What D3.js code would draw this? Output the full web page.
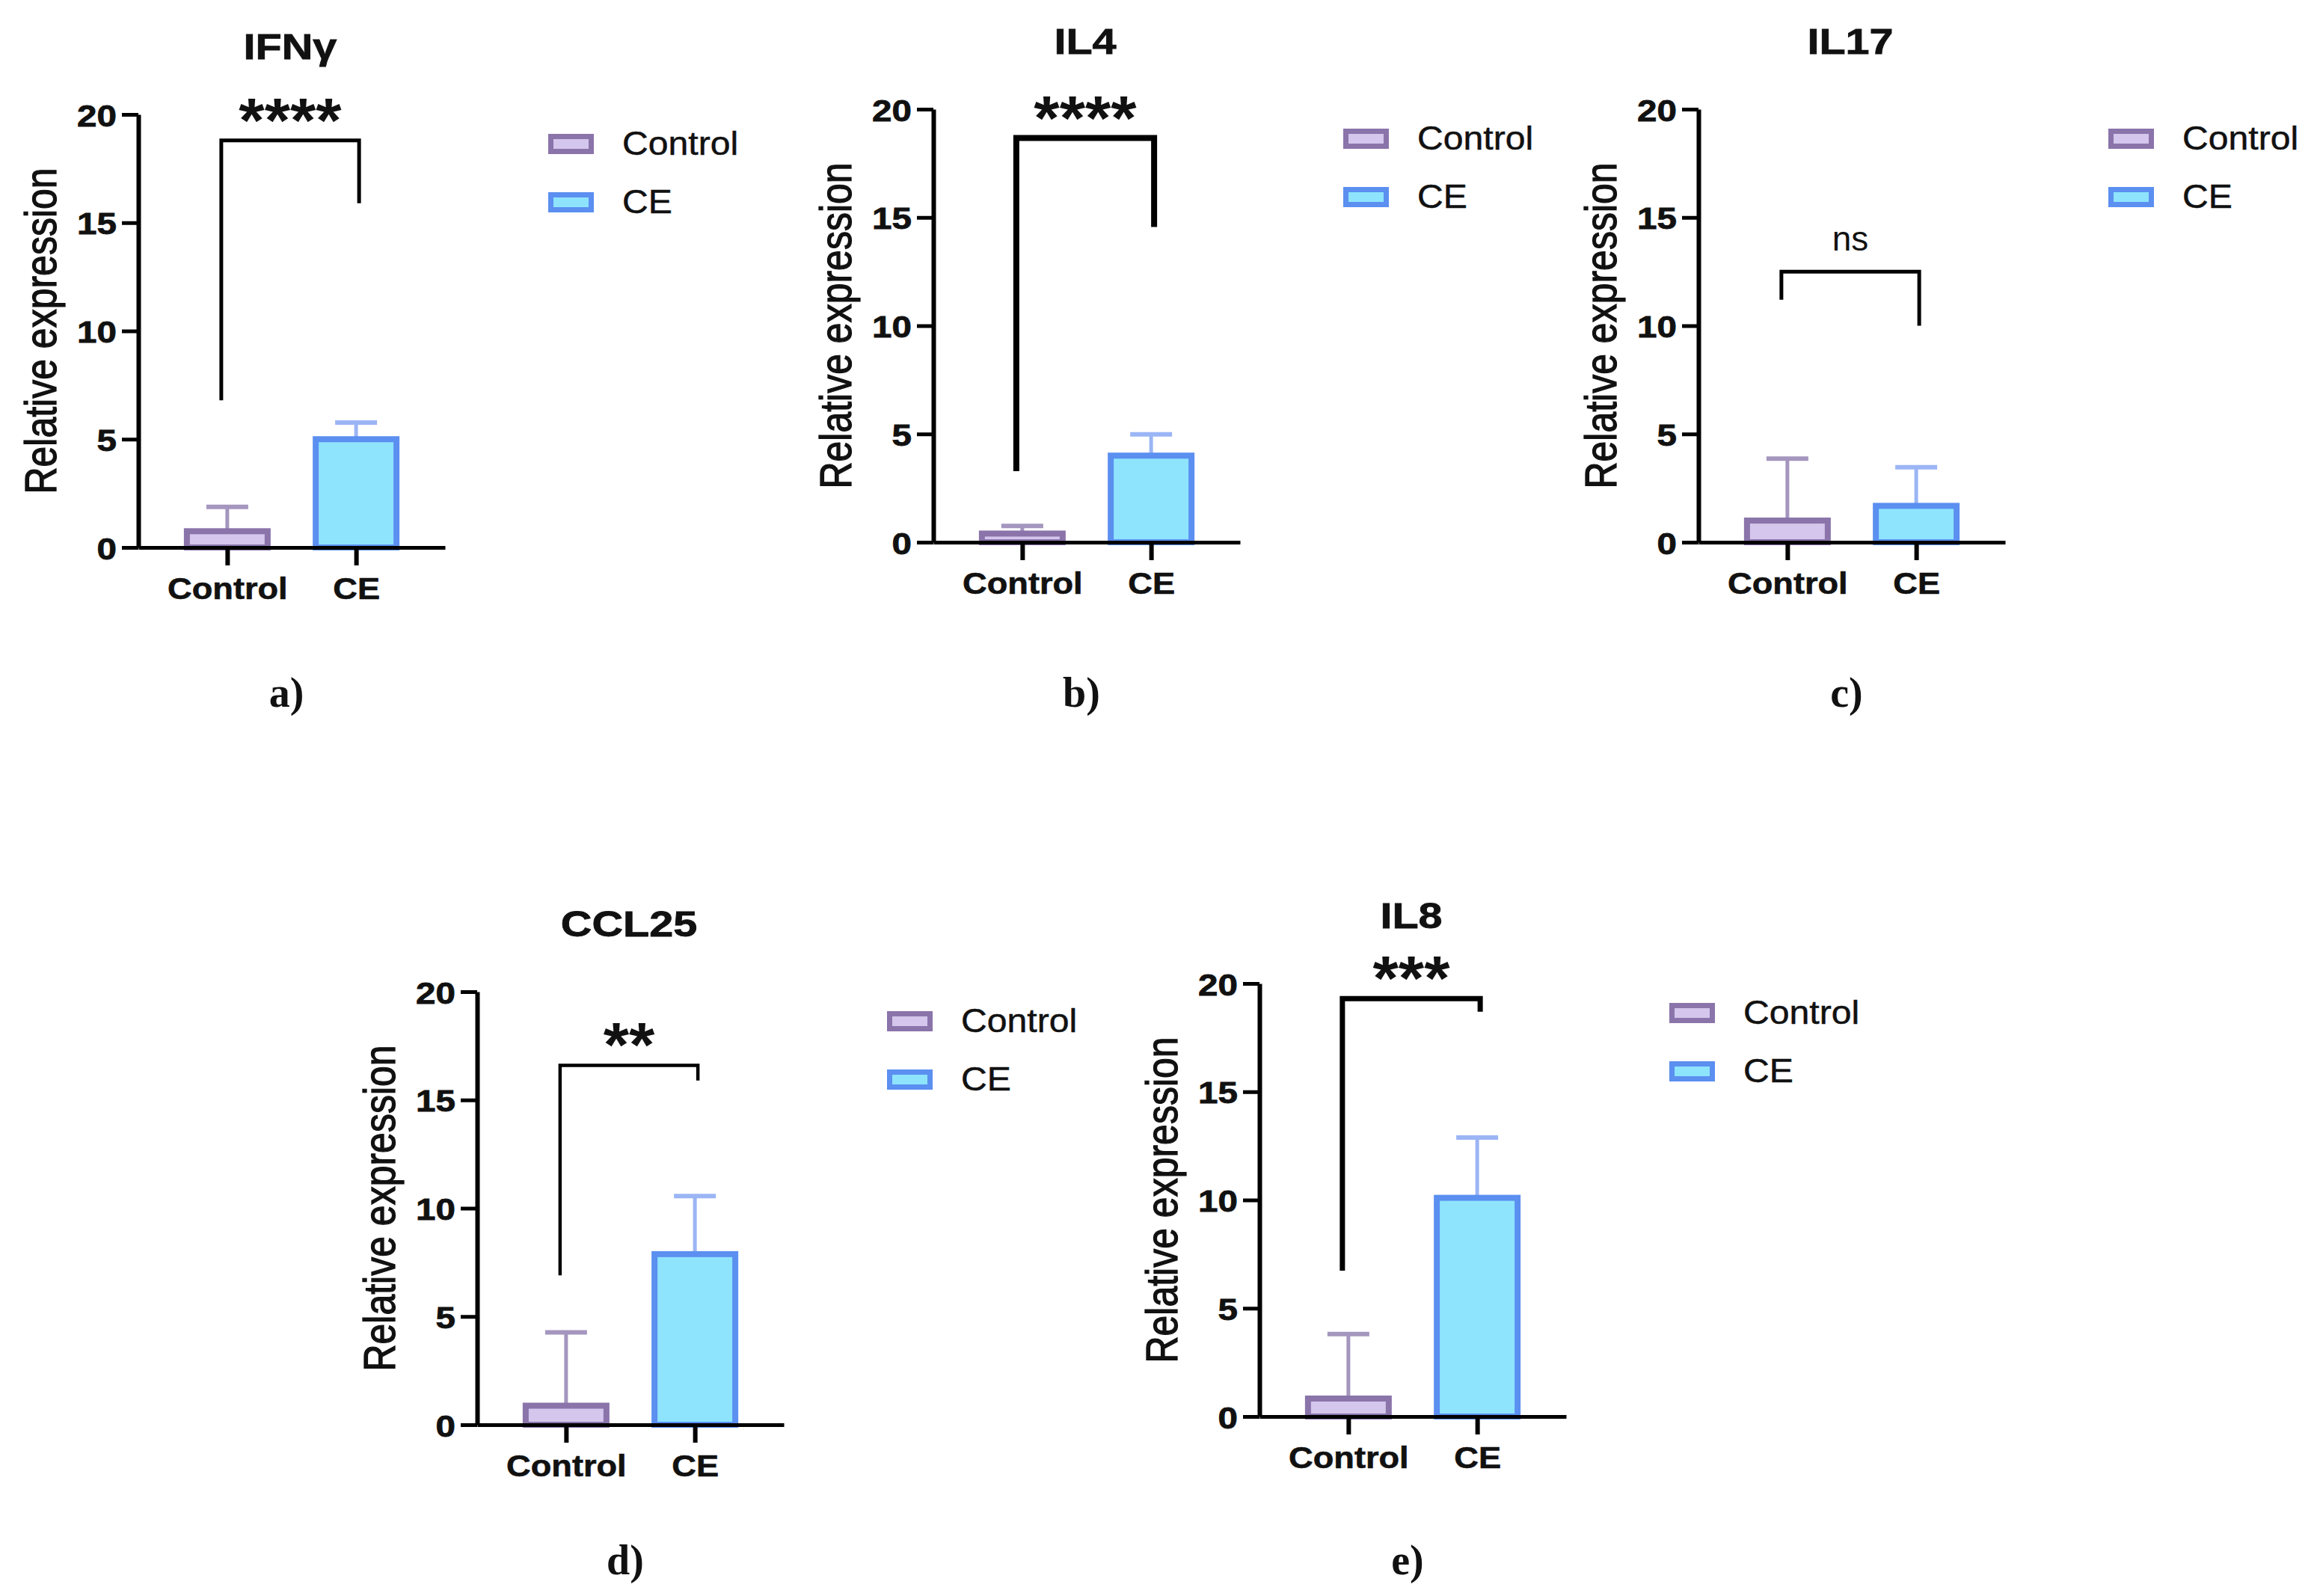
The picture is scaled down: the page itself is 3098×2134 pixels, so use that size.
<!DOCTYPE html>
<html>
<head>
<meta charset="utf-8">
<script src="https://cdn.jsdelivr.net/npm/d3@7"></script>
<style>
  body { margin: 0; background: #fff; }
  svg { display: block; }
</style>
</head>
<body>
<div id="chart"></div>
<script>
// DATA
const genes = ['IFNγ', 'IL4', 'IL17', 'CCL25', 'IL8']
const groups = ['Control', 'CE']
const panelLetters = ['a)', 'b)', 'c)', 'd)', 'e)']
const yTicks = [0, 5, 10, 15, 20]

// mean relative expression [Control, CE]
const meanValues = [
  [0.75, 5.0],
  [0.4, 4.0],
  [1.0, 1.68],
  [0.88, 7.88],
  [0.83, 10.1]
]
// upper error (SD) [Control, CE]
const errValues = [
  [1.12, 0.77],
  [0.35, 0.98],
  [2.86, 1.78],
  [3.39, 2.68],
  [2.98, 2.78]
]
// significance bracket: [top, left leg end, right leg end]
const bracketValues = [
  [18.8, 6.8, 15.9],
  [18.67, 3.28, 14.56],
  [12.5, 11.2, 10.0],
  [16.6, 6.9, 15.9],
  [19.3, 6.74, 18.7]
]
const sigLabels = ['****', '****', 'ns', '**', '***']

// LAYOUT (axis origin of each panel)
const panelOrigins = [
  { x: 185, y: 732, bracketWidth: 5 },
  { x: 1248, y: 725, bracketWidth: 8 },
  { x: 2271, y: 725, bracketWidth: 5 },
  { x: 638, y: 1905, bracketWidth: 4.5 },
  { x: 1684, y: 1894, bracketWidth: 7 }
]
const letterRows = [945, 945, 945, 2105, 2105]

const W = 3098, H = 2134
const plotW = 410, plotH = 579
const font = "'Liberation Sans', Arial, sans-serif"

const colors = {
  Control: { fill: '#d4c6ec', stroke: '#8a74aa', err: '#a496be' },
  CE: { fill: '#8ee4fd', stroke: '#5b8ff0', err: '#9bb5f5' }
}

const svg = d3.select('#chart').append('svg')
  .attr('width', W)
  .attr('height', H)
  .attr('viewBox', `0 0 ${W} ${H}`)

svg.append('rect').attr('width', W).attr('height', H).attr('fill', '#fff')

// text with a slight horizontal stretch like the source figure
function stretchText(g, x, y, str, sx, size, weight, anchor, rotate) {
  return g.append('text')
    .attr('transform', `translate(${x},${y}) scale(${sx},1)` + (rotate ? ' rotate(-90)' : ''))
    .attr('text-anchor', anchor || 'middle')
    .style('font-family', font)
    .style('font-size', size + 'px')
    .style('font-weight', weight || 'normal')
    .attr('fill', '#111')
    .text(str)
}

function drawPanel(i) {
  const o = panelOrigins[i]
  const g = svg.append('g').attr('transform', `translate(${o.x},${o.y - plotH})`)

  const x = d3.scalePoint().domain(groups).range([0, plotW]).padding(0.69)
  const y = d3.scaleLinear().domain([0, 20]).range([plotH, 0])

  // error bars (upward only)
  groups.forEach((grp, j) => {
    const cx = x(grp)
    const top = y(meanValues[i][j] + errValues[i][j])
    g.append('line')
      .attr('x1', cx).attr('x2', cx)
      .attr('y1', y(meanValues[i][j])).attr('y2', top)
      .attr('stroke', colors[grp].err).attr('stroke-width', 5)
    g.append('line')
      .attr('x1', cx - 28).attr('x2', cx + 28)
      .attr('y1', top).attr('y2', top)
      .attr('stroke', colors[grp].err).attr('stroke-width', 6)
  })

  // bars
  g.selectAll('rect.bar')
    .data(groups)
    .join('rect')
    .attr('class', 'bar')
    .attr('x', d => x(d) - 54)
    .attr('width', 108)
    .attr('y', (d, j) => y(meanValues[i][j]))
    .attr('height', (d, j) => y(0) - y(meanValues[i][j]))
    .attr('fill', d => colors[d].fill)
    .attr('stroke', d => colors[d].stroke)
    .attr('stroke-width', 8)

  // y axis
  const yAxis = g.append('g')
    .call(d3.axisLeft(y).tickValues(yTicks).tickSize(22).tickSizeOuter(0).tickFormat(d3.format('d')))
  yAxis.select('.domain').attr('stroke', '#000').attr('stroke-width', 6)
  yAxis.selectAll('.tick line').attr('stroke', '#000').attr('stroke-width', 5)
  yAxis.selectAll('.tick text')
    .attr('x', null).attr('dy', null)
    .attr('transform', 'translate(-29,15) scale(1.16,1)')
    .attr('fill', '#111')
    .attr('stroke', '#111').attr('stroke-width', 0.8)
    .style('font-family', font).style('font-size', '41px').style('font-weight', 'bold')

  // x axis
  const xAxis = g.append('g')
    .attr('transform', `translate(0,${plotH})`)
    .call(d3.axisBottom(x).tickSize(24).tickSizeOuter(0))
  xAxis.select('.domain').attr('stroke', '#000').attr('stroke-width', 5)
  xAxis.selectAll('.tick line').attr('stroke', '#000').attr('stroke-width', 6)
  xAxis.selectAll('.tick text')
    .attr('y', null).attr('dy', null)
    .attr('transform', 'translate(0,69) scale(1.13,1)')
    .attr('fill', '#111')
    .attr('stroke', '#111').attr('stroke-width', 0.6)
    .style('font-family', font).style('font-size', '40px').style('font-weight', 'bold')

  // axis title
  stretchText(g, -110, plotH / 2, 'Relative expression', 1.18, 50, 'normal', 'middle', true)
    .attr('stroke', '#111').attr('stroke-width', 1.1)

  // chart title
  stretchText(g, 203, plotH - 653, genes[i], 1.2, 48, 'bold')
    .attr('stroke', '#111').attr('stroke-width', 0.8)

  // significance bracket
  const b = bracketValues[i]
  const bx1 = x(groups[0]) - 8, bx2 = x(groups[1]) + 4
  const bracketLine = d3.line()
  g.append('path')
    .attr('d', bracketLine([[bx1, y(b[1])], [bx1, y(b[0])], [bx2, y(b[0])], [bx2, y(b[2])]]))
    .attr('fill', 'none')
    .attr('stroke', '#000')
    .attr('stroke-width', o.bracketWidth)
  const midX = (bx1 + bx2) / 2
  if (sigLabels[i] === 'ns') {
    stretchText(g, midX, y(b[0]) - 28, sigLabels[i], 1.0, 46, 'normal')
  } else {
    stretchText(g, midX, y(b[0]) + 2, sigLabels[i], 1.05, 84, 'bold')
  }

  // legend
  const lg = g.append('g').attr('transform', `translate(548,${plotH - 553})`)
  groups.forEach((grp, j) => {
    lg.append('rect')
      .attr('x', 3.5).attr('y', 3.5 + j * 78)
      .attr('width', 54).attr('height', 20)
      .attr('fill', colors[grp].fill)
      .attr('stroke', colors[grp].stroke)
      .attr('stroke-width', 7)
    stretchText(lg, 99, 28 + j * 78, grp, 1.07, 45, 'normal', 'start')
      .attr('stroke', '#111').attr('stroke-width', 0.5)
  })

  // panel letter
  svg.append('text')
    .attr('x', o.x + 198)
    .attr('y', letterRows[i])
    .attr('text-anchor', 'middle')
    .style('font-family', "'Liberation Serif', 'Times New Roman', serif")
    .style('font-size', '56px')
    .style('font-weight', 'bold')
    .attr('fill', '#111')
    .text(panelLetters[i])
}

genes.forEach((gene, i) => drawPanel(i))
</script>
</body>
</html>
